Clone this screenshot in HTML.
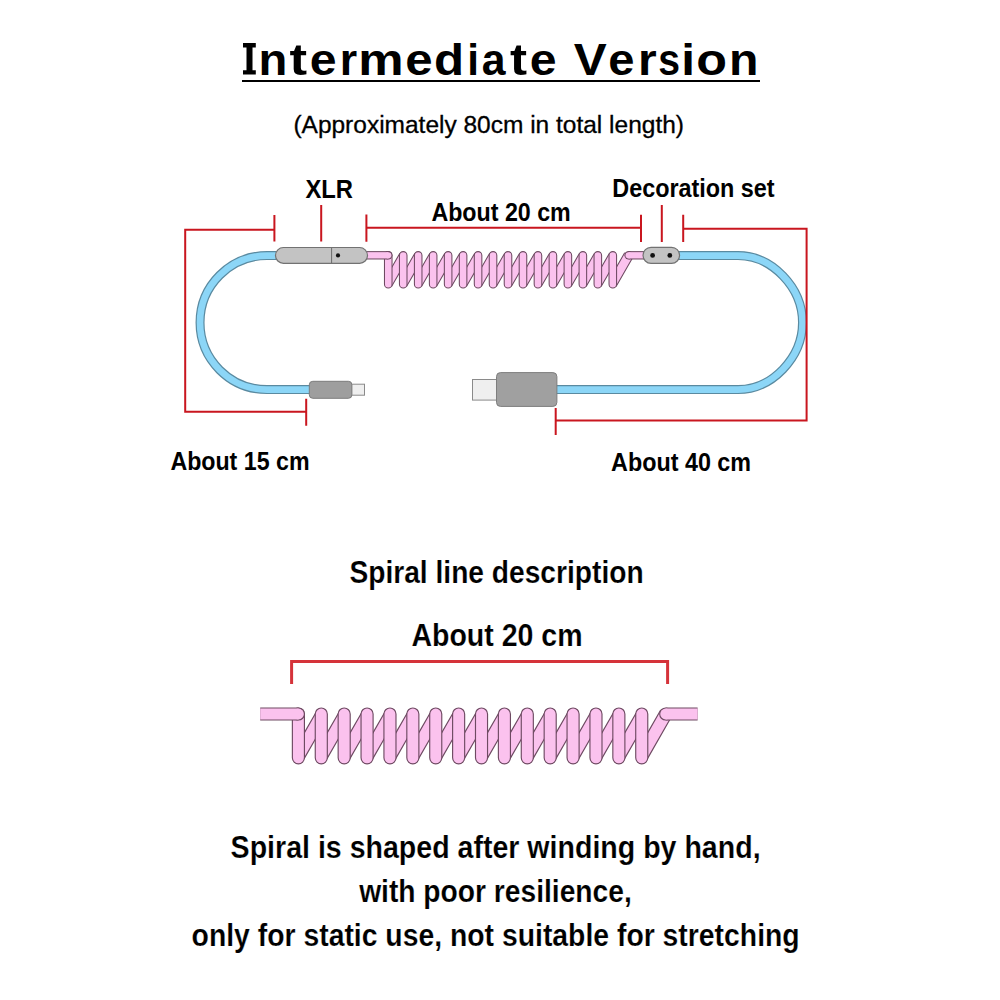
<!DOCTYPE html>
<html><head><meta charset="utf-8"><style>
html,body{margin:0;padding:0;background:#fff;width:1000px;height:1000px;overflow:hidden}
svg{display:block}
text{fill:#000;font-family:"Liberation Sans",sans-serif}
</style></head><body>
<svg width="1000" height="1000" viewBox="0 0 1000 1000">
<text transform="translate(258.49,0) scale(1.049,1)" x="0" y="74.8" font-family="Liberation Sans" font-weight="bold" font-size="45.0">n</text>
<text transform="translate(289.46,0) scale(1.174,1)" x="0" y="74.8" font-family="Liberation Sans" font-weight="bold" font-size="45.0">t</text>
<text transform="translate(309.72,0) scale(1.072,1)" x="0" y="74.8" font-family="Liberation Sans" font-weight="bold" font-size="45.0">e</text>
<text transform="translate(339.65,0) scale(0.995,1)" x="0" y="74.8" font-family="Liberation Sans" font-weight="bold" font-size="45.0">r</text>
<text transform="translate(358.24,0) scale(1.133,1)" x="0" y="74.8" font-family="Liberation Sans" font-weight="bold" font-size="45.0">m</text>
<text transform="translate(405.17,0) scale(1.095,1)" x="0" y="74.8" font-family="Liberation Sans" font-weight="bold" font-size="45.0">e</text>
<text transform="translate(434.08,0) scale(1.094,1)" x="0" y="74.8" font-family="Liberation Sans" font-weight="bold" font-size="45.0">d</text>
<text transform="translate(467.15,0) scale(0.939,1)" x="0" y="74.8" font-family="Liberation Sans" font-weight="bold" font-size="45.0">i</text>
<text transform="translate(481.85,0) scale(0.950,1)" x="0" y="74.8" font-family="Liberation Sans" font-weight="bold" font-size="45.0">a</text>
<text transform="translate(509.98,0) scale(1.138,1)" x="0" y="74.8" font-family="Liberation Sans" font-weight="bold" font-size="45.0">t</text>
<text transform="translate(529.72,0) scale(1.072,1)" x="0" y="74.8" font-family="Liberation Sans" font-weight="bold" font-size="45.0">e</text>
<text transform="translate(573.76,0) scale(1.099,1)" x="0" y="74.8" font-family="Liberation Sans" font-weight="bold" font-size="45.0">V</text>
<text transform="translate(608.26,0) scale(1.049,1)" x="0" y="74.8" font-family="Liberation Sans" font-weight="bold" font-size="45.0">e</text>
<text transform="translate(637.93,0) scale(1.067,1)" x="0" y="74.8" font-family="Liberation Sans" font-weight="bold" font-size="45.0">r</text>
<text transform="translate(658.22,0) scale(0.870,1)" x="0" y="74.8" font-family="Liberation Sans" font-weight="bold" font-size="45.0">s</text>
<text transform="translate(681.14,0) scale(1.101,1)" x="0" y="74.8" font-family="Liberation Sans" font-weight="bold" font-size="45.0">i</text>
<text transform="translate(696.13,0) scale(1.118,1)" x="0" y="74.8" font-family="Liberation Sans" font-weight="bold" font-size="45.0">o</text>
<text transform="translate(728.92,0) scale(1.072,1)" x="0" y="74.8" font-family="Liberation Sans" font-weight="bold" font-size="45.0">n</text>
<path d="M243 43H255.8V47.5H252.5V70.2H255.8V74.5H243V70.2H246.5V47.5H243Z" fill="#000"/>
<rect x="242" y="80" width="518" height="2" fill="#000"/>
<text x="293.4" y="133.2" font-family="Liberation Sans" font-size="24.2" textLength="390.6" lengthAdjust="spacingAndGlyphs" stroke="#000" stroke-width="0.3">(Approximately 80cm in total length)</text>
<path d="M276 255.6 L267 255.6 A67 67 0 0 0 267 389.6 L310 389.6" fill="none" stroke="#5a8aa0" stroke-width="9" />
<path d="M276 255.6 L267 255.6 A67 67 0 0 0 267 389.6 L310 389.6" fill="none" stroke="#8cd6f7" stroke-width="6.6" />
<path d="M678 255.6 L738 255.6 C771.9 255.6 802.5 287.4 802.5 322.6 C802.5 357.8 771.9 389.6 738 389.6 L555 389.6" fill="none" stroke="#5a8aa0" stroke-width="9" />
<path d="M678 255.6 L738 255.6 C771.9 255.6 802.5 287.4 802.5 322.6 C802.5 357.8 771.9 389.6 738 389.6 L555 389.6" fill="none" stroke="#8cd6f7" stroke-width="6.6" />
<path d="M391.55 267.71L399.92 253.14L399.92 271.89L391.55 286.46Z M406.52 267.71L414.89 253.14L414.89 271.89L406.52 286.46Z M421.49 267.71L429.86 253.14L429.86 271.89L421.49 286.46Z M436.46 267.71L444.83 253.14L444.83 271.89L436.46 286.46Z M451.43 267.71L459.80 253.14L459.80 271.89L451.43 286.46Z M466.40 267.71L474.77 253.14L474.77 271.89L466.40 286.46Z M481.37 267.71L489.74 253.14L489.74 271.89L481.37 286.46Z M496.34 267.71L504.71 253.14L504.71 271.89L496.34 286.46Z M511.31 267.71L519.68 253.14L519.68 271.89L511.31 286.46Z M526.28 267.71L534.65 253.14L534.65 271.89L526.28 286.46Z M541.25 267.71L549.62 253.14L549.62 271.89L541.25 286.46Z M556.22 267.71L564.59 253.14L564.59 271.89L556.22 286.46Z M571.19 267.71L579.56 253.14L579.56 271.89L571.19 286.46Z M586.16 267.71L594.53 253.14L594.53 271.89L586.16 286.46Z M601.13 267.71L609.50 253.14L609.50 271.89L601.13 286.46Z M616.10 267.71L624.68 252.78L635.45 252.78L616.10 286.46Z" fill="#fbc2ee"/>
<path d="M391.55 267.71L399.92 253.14M391.55 286.46L399.92 271.89 M406.52 267.71L414.89 253.14M406.52 286.46L414.89 271.89 M421.49 267.71L429.86 253.14M421.49 286.46L429.86 271.89 M436.46 267.71L444.83 253.14M436.46 286.46L444.83 271.89 M451.43 267.71L459.80 253.14M451.43 286.46L459.80 271.89 M466.40 267.71L474.77 253.14M466.40 286.46L474.77 271.89 M481.37 267.71L489.74 253.14M481.37 286.46L489.74 271.89 M496.34 267.71L504.71 253.14M496.34 286.46L504.71 271.89 M511.31 267.71L519.68 253.14M511.31 286.46L519.68 271.89 M526.28 267.71L534.65 253.14M526.28 286.46L534.65 271.89 M541.25 267.71L549.62 253.14M541.25 286.46L549.62 271.89 M556.22 267.71L564.59 253.14M556.22 286.46L564.59 271.89 M571.19 267.71L579.56 253.14M571.19 286.46L579.56 271.89 M586.16 267.71L594.53 253.14M586.16 286.46L594.53 271.89 M601.13 267.71L609.50 253.14M601.13 286.46L609.50 271.89 M616.10 267.71L624.68 252.78M616.10 286.46L635.45 252.78" fill="none" stroke="#6e4a62" stroke-width="1.05"/>
<path d="M388.25 255.40L388.25 284.20 M403.22 255.40L403.22 284.20 M418.19 255.40L418.19 284.20 M433.16 255.40L433.16 284.20 M448.13 255.40L448.13 284.20 M463.10 255.40L463.10 284.20 M478.07 255.40L478.07 284.20 M493.04 255.40L493.04 284.20 M508.01 255.40L508.01 284.20 M522.98 255.40L522.98 284.20 M537.95 255.40L537.95 284.20 M552.92 255.40L552.92 284.20 M567.89 255.40L567.89 284.20 M582.86 255.40L582.86 284.20 M597.83 255.40L597.83 284.20 M612.80 255.40L612.80 284.20" fill="none" stroke="#6e4a62" stroke-width="8.60" stroke-linecap="round"/>
<path d="M388.25 255.40L388.25 284.20 M403.22 255.40L403.22 284.20 M418.19 255.40L418.19 284.20 M433.16 255.40L433.16 284.20 M448.13 255.40L448.13 284.20 M463.10 255.40L463.10 284.20 M478.07 255.40L478.07 284.20 M493.04 255.40L493.04 284.20 M508.01 255.40L508.01 284.20 M522.98 255.40L522.98 284.20 M537.95 255.40L537.95 284.20 M552.92 255.40L552.92 284.20 M567.89 255.40L567.89 284.20 M582.86 255.40L582.86 284.20 M597.83 255.40L597.83 284.20 M612.80 255.40L612.80 284.20" fill="none" stroke="#fbc2ee" stroke-width="6.50" stroke-linecap="round"/>
<path d="M366.00 255.30L388.25 255.30" fill="none" stroke="#6e4a62" stroke-width="8.40" stroke-linecap="butt"/>
<circle cx="388.25" cy="255.30" r="4.20" fill="#6e4a62"/>
<path d="M366.00 255.30L388.25 255.30" fill="none" stroke="#fbc2ee" stroke-width="6.30" stroke-linecap="butt"/>
<circle cx="388.25" cy="255.30" r="3.15" fill="#fbc2ee"/>
<path d="M644.00 255.30L628.62 255.30" fill="none" stroke="#6e4a62" stroke-width="8.40" stroke-linecap="butt"/>
<circle cx="628.62" cy="255.30" r="4.20" fill="#6e4a62"/>
<path d="M644.00 255.30L628.62 255.30" fill="none" stroke="#fbc2ee" stroke-width="6.30" stroke-linecap="butt"/>
<circle cx="628.62" cy="255.30" r="3.15" fill="#fbc2ee"/>
<path d="M304.00 733.38L315.69 712.92L315.69 738.42L304.00 758.88Z M326.89 733.38L338.58 712.92L338.58 738.42L326.89 758.88Z M349.78 733.38L361.47 712.92L361.47 738.42L349.78 758.88Z M372.67 733.38L384.36 712.92L384.36 738.42L372.67 758.88Z M395.56 733.38L407.25 712.92L407.25 738.42L395.56 758.88Z M418.45 733.38L430.14 712.92L430.14 738.42L418.45 758.88Z M441.34 733.38L453.03 712.92L453.03 738.42L441.34 758.88Z M464.23 733.38L475.92 712.92L475.92 738.42L464.23 758.88Z M487.12 733.38L498.81 712.92L498.81 738.42L487.12 758.88Z M510.01 733.38L521.70 712.92L521.70 738.42L510.01 758.88Z M532.90 733.38L544.59 712.92L544.59 738.42L532.90 758.88Z M555.79 733.38L567.48 712.92L567.48 738.42L555.79 758.88Z M578.68 733.38L590.37 712.92L590.37 738.42L578.68 758.88Z M601.57 733.38L613.26 712.92L613.26 738.42L601.57 758.88Z M624.46 733.38L636.15 712.92L636.15 738.42L624.46 758.88Z M647.35 733.38L660.69 710.04L675.26 710.04L647.35 758.88Z" fill="#fbc2ee"/>
<path d="M304.00 733.38L315.69 712.92M304.00 758.88L315.69 738.42 M326.89 733.38L338.58 712.92M326.89 758.88L338.58 738.42 M349.78 733.38L361.47 712.92M349.78 758.88L361.47 738.42 M372.67 733.38L384.36 712.92M372.67 758.88L384.36 738.42 M395.56 733.38L407.25 712.92M395.56 758.88L407.25 738.42 M418.45 733.38L430.14 712.92M418.45 758.88L430.14 738.42 M441.34 733.38L453.03 712.92M441.34 758.88L453.03 738.42 M464.23 733.38L475.92 712.92M464.23 758.88L475.92 738.42 M487.12 733.38L498.81 712.92M487.12 758.88L498.81 738.42 M510.01 733.38L521.70 712.92M510.01 758.88L521.70 738.42 M532.90 733.38L544.59 712.92M532.90 758.88L544.59 738.42 M555.79 733.38L567.48 712.92M555.79 758.88L567.48 738.42 M578.68 733.38L590.37 712.92M578.68 758.88L590.37 738.42 M601.57 733.38L613.26 712.92M601.57 758.88L613.26 738.42 M624.46 733.38L636.15 712.92M624.46 758.88L636.15 738.42 M647.35 733.38L660.69 710.04M647.35 758.88L675.26 710.04" fill="none" stroke="#6e4a62" stroke-width="1.15"/>
<path d="M298.40 714.00L298.40 757.80 M321.29 714.00L321.29 757.80 M344.18 714.00L344.18 757.80 M367.07 714.00L367.07 757.80 M389.96 714.00L389.96 757.80 M412.85 714.00L412.85 757.80 M435.74 714.00L435.74 757.80 M458.63 714.00L458.63 757.80 M481.52 714.00L481.52 757.80 M504.41 714.00L504.41 757.80 M527.30 714.00L527.30 757.80 M550.19 714.00L550.19 757.80 M573.08 714.00L573.08 757.80 M595.97 714.00L595.97 757.80 M618.86 714.00L618.86 757.80 M641.75 714.00L641.75 757.80" fill="none" stroke="#6e4a62" stroke-width="13.20" stroke-linecap="round"/>
<path d="M298.40 714.00L298.40 757.80 M321.29 714.00L321.29 757.80 M344.18 714.00L344.18 757.80 M367.07 714.00L367.07 757.80 M389.96 714.00L389.96 757.80 M412.85 714.00L412.85 757.80 M435.74 714.00L435.74 757.80 M458.63 714.00L458.63 757.80 M481.52 714.00L481.52 757.80 M504.41 714.00L504.41 757.80 M527.30 714.00L527.30 757.80 M550.19 714.00L550.19 757.80 M573.08 714.00L573.08 757.80 M595.97 714.00L595.97 757.80 M618.86 714.00L618.86 757.80 M641.75 714.00L641.75 757.80" fill="none" stroke="#fbc2ee" stroke-width="10.90" stroke-linecap="round"/>
<path d="M260.20 714.00L298.40 714.00" fill="none" stroke="#6e4a62" stroke-width="13.20" stroke-linecap="butt"/>
<circle cx="298.40" cy="714.00" r="6.60" fill="#6e4a62"/>
<path d="M260.20 714.00L298.40 714.00" fill="none" stroke="#fbc2ee" stroke-width="10.90" stroke-linecap="butt"/>
<circle cx="298.40" cy="714.00" r="5.45" fill="#fbc2ee"/>
<path d="M697.60 714.00L665.71 714.00" fill="none" stroke="#6e4a62" stroke-width="13.20" stroke-linecap="butt"/>
<circle cx="665.71" cy="714.00" r="6.60" fill="#6e4a62"/>
<path d="M697.60 714.00L665.71 714.00" fill="none" stroke="#fbc2ee" stroke-width="10.90" stroke-linecap="butt"/>
<circle cx="665.71" cy="714.00" r="5.45" fill="#fbc2ee"/>
<rect x="275.5" y="247.5" width="92" height="15.8" rx="7.9" fill="#c3c3c3" stroke="#727272" stroke-width="1.2"/>
<line x1="331.6" y1="248" x2="331.6" y2="263" stroke="#6a6a6a" stroke-width="1"/>
<circle cx="338" cy="255.4" r="2.1" fill="#111"/>
<rect x="643" y="247.3" width="36.6" height="16" rx="8" fill="#c3c3c3" stroke="#727272" stroke-width="1.2"/>
<circle cx="652.6" cy="255.4" r="2.4" fill="#111"/>
<circle cx="669.8" cy="255.4" r="2.4" fill="#111"/>
<rect x="351.5" y="384.2" width="13" height="11" fill="#efefef" stroke="#8a8a8a" stroke-width="1"/>
<rect x="309.3" y="381.3" width="42.6" height="17" rx="3.5" fill="#9e9e9e" stroke="#7c7c7c" stroke-width="1"/>
<rect x="472.5" y="379.5" width="26" height="20.6" fill="#efefef" stroke="#8a8a8a" stroke-width="1"/>
<rect x="496.5" y="372.6" width="60.4" height="33.8" rx="4" fill="#a0a0a0" stroke="#7e7e7e" stroke-width="1"/>
<path d="M274.4 229.8 L185.2 229.8 L185.2 411.8 L306.2 411.8" stroke="#c9161f" fill="none" stroke-width="2" stroke-linejoin="miter"/>
<path d="M274.4 215 V241.5 M321.2 205 V241.5 M366.4 214.6 V241.8 M641 214.7 V242 M661.8 204.9 V242 M683.2 214.7 V242 M306.2 398.8 V425.8 M555.7 408 V435" stroke="#c9161f" fill="none" stroke-width="2"/>
<path d="M366.4 227.8 H641" stroke="#c9161f" fill="none" stroke-width="2"/>
<path d="M683.2 228.7 H806.6 V420.6 H555.7" stroke="#c9161f" fill="none" stroke-width="2"/>
<path d="M291.6 684 V661.5 H667.6 V684" stroke="#d5333a" fill="none" stroke-width="3"/>
<text transform="scale(1,1.1022)" x="305.40" y="179.64" font-family="Liberation Sans" font-weight="bold" font-size="23.80">XLR</text>
<text transform="scale(1,1.1051)" x="431.40" y="199.99" font-family="Liberation Sans" font-weight="bold" font-size="23.23">About 20 cm</text>
<text transform="scale(1,1.0738)" x="612.30" y="183.46" font-family="Liberation Sans" font-weight="bold" font-size="23.39">Decoration set</text>
<text transform="scale(1,1.0826)" x="170.40" y="434.14" font-family="Liberation Sans" font-weight="bold" font-size="23.20">About 15 cm</text>
<text transform="scale(1,1.0884)" x="611.10" y="432.48" font-family="Liberation Sans" font-weight="bold" font-size="23.33">About 40 cm</text>
<text transform="scale(1,1.1339)" x="349.40" y="513.96" font-family="Liberation Sans" font-weight="bold" font-size="28.18" stroke="#fff" stroke-width="0.15">Spiral line description</text>
<text transform="scale(1,1.1248)" x="411.40" y="574.35" font-family="Liberation Sans" font-weight="bold" font-size="28.53" stroke="#fff" stroke-width="0.15">About 20 cm</text>
<text transform="scale(1,1.1186)" x="230.60" y="766.88" font-family="Liberation Sans" font-weight="bold" font-size="28.57" stroke="#fff" stroke-width="0.15">Spiral is shaped after winding by hand,</text>
<text transform="scale(1,1.1324)" x="359.14" y="796.17" font-family="Liberation Sans" font-weight="bold" font-size="28.22" stroke="#fff" stroke-width="0.15">with poor resilience,</text>
<text transform="scale(1,1.1268)" x="191.60" y="839.19" font-family="Liberation Sans" font-weight="bold" font-size="28.36" stroke="#fff" stroke-width="0.15">only for static use, not suitable for stretching</text>
</svg>
</body></html>
